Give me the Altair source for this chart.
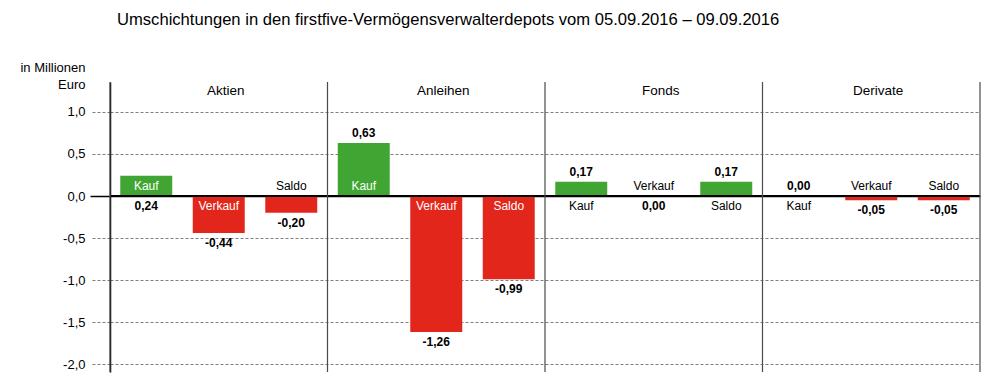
import altair as alt
import pandas as pd

# ---- data ----
sections = ["Aktien", "Anleihen", "Fonds", "Derivate"]
types = ["Kauf", "Verkauf", "Saldo"]
bar_values = [0.24, -0.44, -0.20, 0.63, -1.62, -0.99, 0.17, 0.00, 0.17, 0.00, -0.05, -0.05]
label_values = [0.24, -0.44, -0.20, 0.63, -1.26, -0.99, 0.17, 0.00, 0.17, 0.00, -0.05, -0.05]
y_ticks = [-2.0, -1.5, -1.0, -0.5, 0.0, 0.5, 1.0]
title_text = "Umschichtungen in den firstfive-Vermögensverwalterdepots vom 05.09.2016 – 09.09.2016"
y_title = ["in Millionen", "Euro"]

# ---- label layout (which side of the zero line / bar end) ----
NAME_SIDE = ["above", "below", "above", "above", "below", "below",
             "below", "above", "below", "below", "above", "above"]
VALUE_SIDE = ["below", "below", "below", "above", "below", "below",
              "above", "below", "above", "above", "below", "below"]

FONT = "Liberation Sans"
GREEN = "#40a532"
RED = "#e3261b"

rows = []
lab_rows = []
i = 0
for s in sections:
    for t in types:
        b = bar_values[i]
        rows.append({"section": s, "type": t, "bar": b})
        ns = NAME_SIDE[i]
        inside = (ns == "above" and b > 0) or (ns == "below" and b < 0)
        lab_rows.append({"section": s, "type": t, "text": t, "val": 0.0, "side": ns,
                         "kind": "name", "color": "white" if inside else "black"})
        vs = VALUE_SIDE[i]
        at_end = (vs == "above" and b > 0) or (vs == "below" and b < 0)
        txt = f"{label_values[i]:.2f}".replace(".", ",")
        lab_rows.append({"section": s, "type": t, "text": txt, "val": b if at_end else 0.0,
                         "side": vs, "kind": "value", "color": "black"})
        i += 1

df = pd.DataFrame(rows)
labels = pd.DataFrame(lab_rows)
sec_df = pd.DataFrame({"section": sections})

y_scale = alt.Scale(domain=[-2.095, 1.357], nice=False, zero=False)
x_scale = alt.Scale(paddingInner=0, paddingOuter=0)
off_scale = alt.Scale(paddingInner=0.283, paddingOuter=0.1415)

zero_test = "datum.value == 0"

y_axis = alt.Axis(
    values=y_ticks,
    labelExpr="replace(replace(format(datum.value, '.1f'), '.', ','), '\u2212', '-')",
    grid=True,
    gridDash={"condition": {"test": zero_test, "value": []}, "value": [3, 2]},
    gridColor={"condition": {"test": zero_test, "value": "black"}, "value": "#7f7f7f"},
    gridWidth={"condition": {"test": zero_test, "value": 1.5}, "value": 1},
    tickSize=20,
    tickDash={"condition": {"test": zero_test, "value": []}, "value": [3, 2]},
    tickColor={"condition": {"test": zero_test, "value": "black"}, "value": "#7f7f7f"},
    tickWidth={"condition": {"test": zero_test, "value": 1.5}, "value": 1},
    domainColor="black",
    domainWidth=1.5,
    labelPadding=5,
    labelFontSize=13,
    labelColor="black",
    labelFont=FONT,
    title=y_title,
    titleAngle=0,
    titleAlign="right",
    titleBaseline="alphabetic",
    titleX=-25,
    titleY=-11,
    titleFontSize=13,
    titleFontWeight="normal",
    titleColor="black",
    titleFont=FONT,
    titleLineHeight=17,
)

x_axis = alt.Axis(
    orient="top", title=None, domain=False, ticks=False, tickSize=0,
    labelPadding=-8, labelBaseline="middle", labelAngle=0, labelOffset=7,
    labelFontSize=13.5, labelColor="black", labelFont=FONT,
)


def X(band=None):
    if band is None:
        return alt.X("section:N", sort=sections, scale=x_scale, axis=x_axis)
    return alt.X("section:N", sort=sections, scale=x_scale, axis=x_axis, bandPosition=band)


def Y(field):
    return alt.Y(field, scale=y_scale, axis=y_axis)


XO = alt.XOffset("type:N", sort=types, scale=off_scale)

bars = alt.Chart(df).mark_bar().encode(
    x=X(),
    xOffset=XO,
    y=Y("bar:Q"),
    color=alt.condition("datum.bar >= 0", alt.value(GREEN), alt.value(RED)),
)

dividers = alt.Chart(sec_df).mark_rule(color="#4a4a4a", strokeWidth=1.2).encode(
    x=X(0),
)
right_edge = alt.Chart(sec_df).transform_filter(
    alt.datum.section == sections[-1]
).mark_rule(color="#4a4a4a", strokeWidth=1.2).encode(
    x=X(1),
)

zero_line = alt.Chart(sec_df).mark_rule(color="black", strokeWidth=1.5).encode(
    y=alt.Y(datum=0, scale=y_scale, axis=y_axis)
)


def text_layer(kind, side):
    base = alt.Chart(labels).transform_filter(
        (alt.datum.kind == kind) & (alt.datum.side == side)
    )
    mk = base.mark_text(
        baseline="bottom" if side == "above" else "top",
        dy=-3 if side == "above" else 5,
        fontSize=12,
        font=FONT,
        fontWeight="bold" if kind == "value" else "normal",
    )
    return mk.encode(
        x=X(),
        xOffset=XO,
        y=Y("val:Q"),
        text="text:N",
        color=alt.Color("color:N", scale=None),
    )


chart = alt.layer(
    bars,
    zero_line,
    dividers,
    right_edge,
    text_layer("name", "above"),
    text_layer("name", "below"),
    text_layer("value", "above"),
    text_layer("value", "below"),
).properties(
    width=870,
    height=290,
    padding={"left": 102, "top": 74, "right": 16, "bottom": 4},
    autosize=alt.AutoSizeParams(type="none"),
    title=alt.TitleParams(
        text=title_text, anchor="start", frame="group", dx=7, offset=16,
        fontSize=16.6, fontWeight="normal", font=FONT, color="black", baseline="bottom",
    ),
).configure(font=FONT).configure_view(stroke=None)

chart.save("out.html", embed_options={"renderer": "svg", "actions": False})
